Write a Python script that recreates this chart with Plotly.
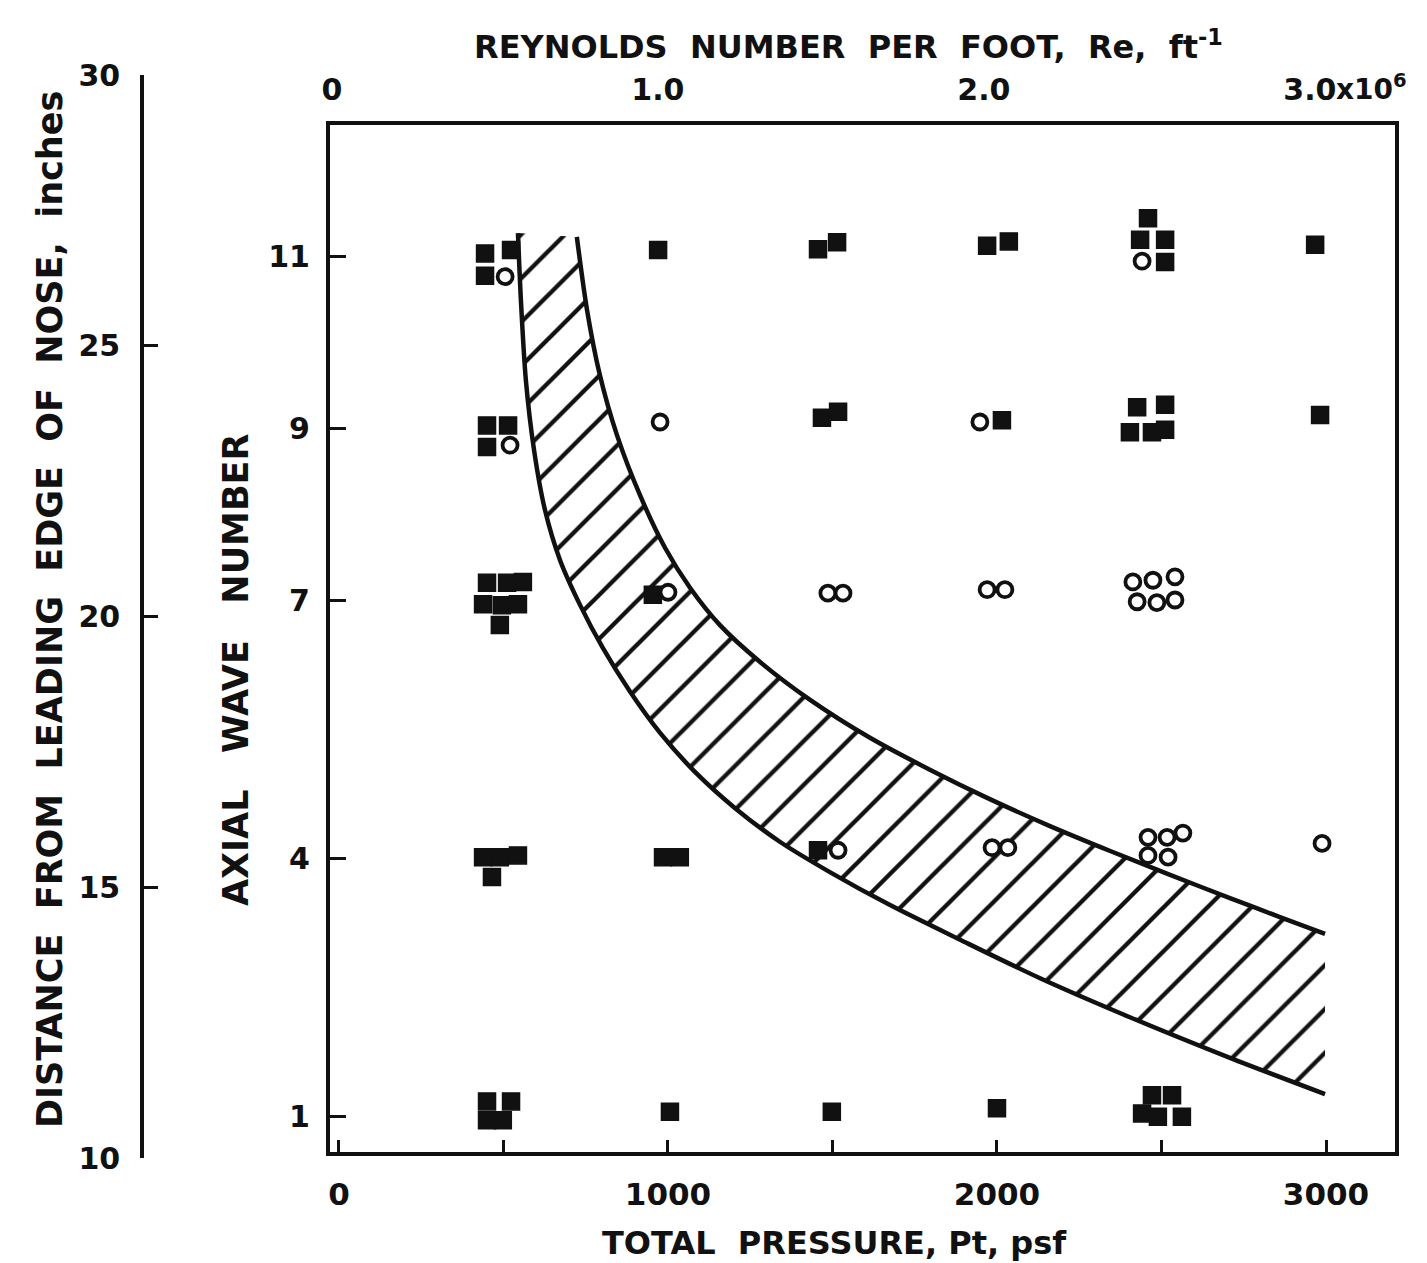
import plotly.graph_objects as go

# ---------------------------------------------------------------------------
# Observations: total pressure (psf) and axial wave number
# filled squares and open circles
# ---------------------------------------------------------------------------
SQUARE_P = [444, 523, 444, 970, 1456, 1514, 1970, 2036, 2459, 2435, 2511, 2511, 2967,
            450, 514, 450, 1468, 1517, 2015, 2426, 2511, 2404, 2471, 2511, 2982,
            450, 511, 559, 438, 495, 544, 489, 954,
            438, 489, 544, 465, 985, 1036, 1456,
            450, 523, 450, 498, 1006, 1498, 2000, 2471, 2532, 2441, 2489, 2562]
SQUARE_N = [11.03, 11.07, 10.77, 11.07, 11.08, 11.16, 11.12, 11.17, 11.44, 11.19, 11.19, 10.93, 11.13,
            9.03, 9.03, 8.78, 9.12, 9.19, 9.09, 9.24, 9.27, 8.95, 8.95, 8.98, 9.15,
            7.20, 7.20, 7.21, 6.95, 6.94, 6.95, 6.71, 7.06,
            4.01, 4.01, 4.03, 3.78, 4.01, 4.01, 4.09,
            1.17, 1.17, 0.95, 0.95, 1.05, 1.05, 1.09, 1.24, 1.24, 1.03, 0.99, 0.99]

CIRCLE_P = [505, 2441,
            520, 976, 1948,
            1000, 1486, 1532, 1970, 2024, 2413, 2474, 2541, 2426, 2486, 2541,
            1517, 1985, 2033, 2459, 2517, 2565, 2459, 2520, 2988]
CIRCLE_N = [10.76, 10.94,
            8.80, 9.07, 9.07,
            7.09, 7.08, 7.08, 7.12, 7.12, 7.21, 7.23, 7.27, 6.98, 6.97, 7.00,
            4.09, 4.12, 4.12, 4.24, 4.24, 4.29, 4.03, 4.01, 4.17]

# ---------------------------------------------------------------------------
# Transition band: total pressure (psf) vs distance from nose (inches)
# ---------------------------------------------------------------------------
BAND_LOW_P = [544, 553, 568, 593, 626, 672, 733, 802, 885, 976, 1082, 1204,
              1340, 1492, 1675, 1888, 2131, 2404, 2708, 2997]
BAND_LOW_D = [27.08, 25.84, 24.37, 23.07, 21.97, 21.04, 20.21, 19.42, 18.61, 17.85,
              17.13, 16.46, 15.84, 15.28, 14.67, 14.03, 13.32, 12.60, 11.85, 11.18]
BAND_HIGH_P = [723, 754, 793, 845, 915, 991, 1067, 1158, 1280, 1432, 1614, 1796,
               1970, 2161, 2344, 2526, 2708, 2860, 2997]
BAND_HIGH_D = [27.01, 25.66, 24.46, 23.35, 22.24, 21.27, 20.53, 19.84, 19.16, 18.46,
               17.76, 17.17, 16.65, 16.13, 15.67, 15.23, 14.80, 14.45, 14.14]

# ---------------------------------------------------------------------------
# Axis ticks
# ---------------------------------------------------------------------------
PRESSURE_TICKS = [0, 1000, 2000, 3000]
PRESSURE_MINOR = [500, 1500, 2500]
RE_TICKS = [0, 1, 2, 3]
RE_LABELS = ["0", "1.0", "2.0", "3.0"]
WAVE_TICKS = [1, 4, 7, 9, 11]
DIST_TICKS = [10, 15, 20, 25, 30]

PRESSURE_RANGE = [-27.4, 3209.7]
RE_RANGE = [-0.006, 3.261]
WAVE_RANGE = [0.581, 12.523]
DIST_RANGE = [10, 30]

FONT = "DejaVu Sans"
INK = "#111111"
NB = "\u00a0"


def tf(size):
    return dict(family=FONT, size=size, color=INK, weight="bold")


fig = go.Figure()

# hatched transition band (distance axis)
fig.add_trace(go.Scatter(
    x=BAND_LOW_P, y=BAND_LOW_D, xaxis="x", yaxis="y", mode="lines",
    line=dict(color=INK, width=4.5, shape="spline", smoothing=0.8),
    hoverinfo="skip", showlegend=False))
fig.add_trace(go.Scatter(
    x=BAND_HIGH_P, y=BAND_HIGH_D, xaxis="x", yaxis="y", mode="lines",
    line=dict(color=INK, width=4.5, shape="spline", smoothing=0.8),
    fill="tonexty", fillcolor="rgba(0,0,0,0)",
    fillpattern=dict(shape="/", size=31, solidity=0.14, fgcolor=INK,
                     bgcolor="rgba(0,0,0,0)", fgopacity=1),
    hoverinfo="skip", showlegend=False))

# observations (wave-number axis)
fig.add_trace(go.Scatter(
    x=SQUARE_P, y=SQUARE_N, xaxis="x", yaxis="y2", mode="markers",
    marker=dict(symbol="square", size=17, color=INK, line=dict(color=INK, width=1.5)),
    hoverinfo="skip", showlegend=False))
fig.add_trace(go.Scatter(
    x=CIRCLE_P, y=CIRCLE_N, xaxis="x", yaxis="y2", mode="markers",
    marker=dict(symbol="circle", size=15, color="white", line=dict(color=INK, width=3.8)),
    hoverinfo="skip", showlegend=False))

# carrier for the Reynolds-number scale
fig.add_trace(go.Scatter(
    x=RE_RANGE, y=WAVE_RANGE, xaxis="x2", yaxis="y2", mode="markers",
    marker=dict(opacity=0), hoverinfo="skip", showlegend=False))

fig.update_layout(
    width=1427, height=1263,
    margin=dict(l=142, r=32, t=75, b=105),
    paper_bgcolor="white", plot_bgcolor="rgba(0,0,0,0)",
    showlegend=False,
    xaxis=dict(
        domain=[0.15, 1.0], range=PRESSURE_RANGE, anchor="y2",
        tickmode="array", tickvals=PRESSURE_TICKS,
        ticks="inside", ticklen=12, tickwidth=3, tickcolor=INK,
        minor=dict(tickmode="array", tickvals=PRESSURE_MINOR, ticks="inside",
                   ticklen=12, tickwidth=3, tickcolor=INK, showgrid=False),
        showline=True, linewidth=4, linecolor=INK, mirror=True,
        showgrid=False, zeroline=False, tickfont=tf(31), ticklabelstandoff=12),
    xaxis2=dict(
        overlaying="x", side="top", anchor="y2", range=RE_RANGE,
        tickmode="array", tickvals=RE_TICKS, ticktext=RE_LABELS,
        ticks="", showline=True, linewidth=4, linecolor=INK,
        showgrid=False, zeroline=False, tickfont=tf(30), ticklabelstandoff=9),
    yaxis=dict(
        domain=[0.0, 1.0], range=DIST_RANGE, anchor="free", position=0, side="left",
        tickmode="array", tickvals=DIST_TICKS,
        ticks="inside", ticklen=14, tickwidth=3, tickcolor=INK,
        showline=True, linewidth=3.5, linecolor=INK,
        showgrid=False, zeroline=False, tickfont=tf(30), ticklabelstandoff=14),
    yaxis2=dict(
        domain=[0.0055, 0.9538], range=WAVE_RANGE, anchor="x", side="left",
        tickmode="array", tickvals=WAVE_TICKS,
        ticks="inside", ticklen=16, tickwidth=3, tickcolor=INK,
        showline=True, linewidth=4, linecolor=INK, mirror=True,
        showgrid=False, zeroline=False, tickfont=tf(30), ticklabelstandoff=10),
    annotations=[
        dict(text=f"REYNOLDS{NB*2}NUMBER{NB*2}PER{NB*2}FOOT,{NB*2}Re,{NB*2}ft<sup>-1</sup>",
             xref="paper", yref="paper", x=0.5635, y=1.0277,
             xanchor="center", yanchor="middle", showarrow=False, font=tf(32)),
        dict(text=f"TOTAL{NB*2}PRESSURE,{NB}Pt,{NB}psf",
             xref="paper", yref="paper", x=0.553, y=-0.0785,
             xanchor="center", yanchor="middle", showarrow=False, font=tf(32)),
        dict(text=f"DISTANCE{NB*2}FROM{NB*2}LEADING{NB*2}EDGE{NB*2}OF{NB*2}NOSE,{NB*2}inches",
             xref="paper", yref="paper", x=-0.0734, y=0.506, textangle=-90,
             xanchor="center", yanchor="middle", showarrow=False, font=tf(35)),
        dict(text=f"AXIAL{NB*3}WAVE{NB*3}NUMBER",
             xref="paper", yref="paper", x=0.075, y=0.4506, textangle=-90,
             xanchor="center", yanchor="middle", showarrow=False, font=tf(35)),
        dict(text="x10<sup>6</sup>", xref="x2", yref="paper", x=3.0, y=0.988,
             xanchor="left", yanchor="middle", xshift=24, showarrow=False, font=tf(28)),
    ],
)

fig.write_html("out.html")
